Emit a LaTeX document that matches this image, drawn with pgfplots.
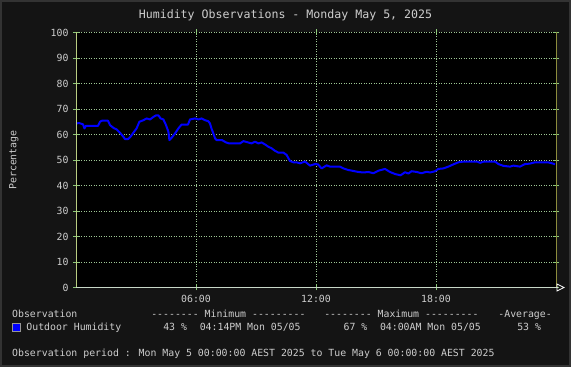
\documentclass[border=0pt]{standalone}
\usepackage{pgfplots}
\pgfplotsset{compat=1.18}
\usepackage{fontspec}
\setmainfont{DejaVu Sans Mono}[Ligatures=TeXOff]
\definecolor{bordergray}{RGB}{51,51,51}
\definecolor{canvas}{RGB}{20,20,20}
\definecolor{gridc}{RGB}{160,200,150}
\definecolor{leftax}{RGB}{185,205,130}
\definecolor{botax}{RGB}{200,215,200}
\definecolor{rightax}{RGB}{140,140,60}
\definecolor{tickc}{RGB}{140,200,120}
\definecolor{txt}{RGB}{205,205,205}
\definecolor{hum}{RGB}{0,0,255}
\newcommand{\sm}{\fontsize{9.85}{11}\selectfont}
\pgfplotstableread{
h v
0.0 64.3
0.15 64.5
0.35 64.0
0.42 62.4
0.5 63.4
1.1 63.4
1.2 65.0
1.3 65.4
1.6 65.4
1.7 63.7
1.87 62.6
2.03 62.0
2.2 60.7
2.37 59.1
2.45 58.2
2.6 58.2
2.7 58.9
2.87 60.7
3.03 62.4
3.17 65.0
3.37 65.6
3.53 66.3
3.7 65.9
3.87 66.9
4.0 67.5
4.12 67.5
4.23 66.3
4.37 65.9
4.5 63.7
4.62 61.1
4.67 57.8
4.78 58.7
4.95 60.4
5.12 62.4
5.28 63.9
5.6 63.9
5.7 65.9
5.95 66.3
6.12 65.9
6.28 66.3
6.45 65.6
6.62 65.2
6.7 64.3
6.78 62.2
6.87 60.4
6.95 58.5
7.03 57.8
7.3 57.8
7.5 56.9
7.65 56.5
8.2 56.5
8.37 57.4
8.6 56.9
8.78 56.5
8.95 57.2
9.12 56.5
9.28 56.9
9.45 56.1
9.62 55.2
9.78 54.6
9.95 53.6
10.12 52.9
10.37 52.9
10.53 52.0
10.7 49.6
10.87 49.1
11.03 49.1
11.2 48.7
11.45 49.4
11.7 47.8
11.95 48.4
12.1 48.3
12.28 46.7
12.53 47.9
12.7 47.4
13.2 47.4
13.37 46.7
13.6 46.1
13.87 45.7
14.12 45.3
14.37 45.1
14.62 45.3
14.87 44.8
15.12 45.8
15.45 46.5
15.7 45.3
15.95 44.5
16.23 44.0
16.45 45.2
16.62 44.7
16.78 45.6
17.03 45.3
17.28 44.8
17.53 45.4
17.7 45.1
17.95 45.6
18.12 46.5
18.37 46.7
18.62 47.4
18.87 48.3
19.12 49.1
19.4 49.4
20.05 49.4
20.2 48.9
20.4 49.4
20.95 49.4
21.12 48.4
21.37 47.7
21.7 47.4
21.87 47.8
22.2 47.4
22.45 48.4
22.7 48.6
22.95 49.1
23.6 49.1
23.85 48.6
23.95 48.3
}\humdata
\begin{document}
\begin{tikzpicture}[x=1pt,y=1pt,
  lt/.style={anchor=west,inner sep=0pt,text height=7.2pt,text depth=0pt,text=txt,font=\sm}]
\fill[bordergray] (0,0) rectangle (571,367);
\fill[canvas] (2,2) rectangle (569,365);
\begin{axis}[
  at={(76pt,79.5pt)}, anchor=south west,
  scale only axis, width=480pt, height=255pt,
  xmin=0, xmax=24, ymin=0, ymax=100,
  axis background/.style={fill=black},
  axis line style={draw=none},
  xtick={6,12,18}, xticklabels={06:00,12:00,18:00},
  ytick={0,10,...,100},
  grid=major,
  major grid style={draw=gridc, line width=0.8pt, dash pattern=on 1pt off 1.5pt},
  tick align=center, major tick length=6pt,
  tick style={draw=tickc, line width=0.8pt},
  /pgf/number format/assume math mode=true,
  ticklabel style={font=\sm, text=txt},
  xticklabel style={yshift=-1pt},
  yticklabel style={xshift=-1pt},
  clip=false,
]
\addplot[hum, line width=2pt, line join=round] table[x=h,y=v] {\humdata};
\draw[leftax, line width=0.8pt] (axis cs:0,0) -- (axis cs:0,100);
\draw[rightax, line width=0.8pt] (axis cs:24,0) -- (axis cs:24,100);
\draw[botax, line width=0.8pt] (axis cs:0,0) -- (axis cs:24.1,0);
\end{axis}
\draw[white, line width=0.8pt] (557,83) -- (564,79.5) -- (557,76) -- cycle;
\node[inner sep=0pt,text=txt,font=\fontsize{11.6}{13}\selectfont,text height=8.4pt,text depth=0pt] at (285.5,352.3) {Humidity Observations - Monday May 5, 2025};
\node[inner sep=0pt,text=txt,font=\sm,rotate=90,text height=7.2pt,text depth=0pt] at (12.7,207) {Percentage};
\node[lt] at (12,52.7) {Observation};
\node[lt] at (151.1,52.7) {-------- Minimum ---------};
\node[lt] at (324.1,52.7) {-------- Maximum ---------};
\node[lt] at (498.2,52.7) {-Average-};
\fill[hum, draw={rgb,255:red,150;green,150;blue,150}, line width=0.8pt] (12.7,36) rectangle (20.3,43.3);
\node[lt] at (26.2,39.7) {Outdoor Humidity};
\node[lt] at (163.1,39.7) {43 \%};
\node[lt] at (199.6,39.7) {04:14PM Mon 05/05};
\node[lt] at (343.4,39.7) {67 \%};
\node[lt] at (379.8,39.7) {04:00AM Mon 05/05};
\node[lt] at (517.1,39.7) {53 \%};
\node[lt] at (12,13.7) {Observation period : Mon May 5 00:00:00 AEST 2025 to Tue May 6 00:00:00 AEST 2025};
\pgfresetboundingbox
\useasboundingbox (0,0) rectangle (571,367);
\end{tikzpicture}
\end{document}
